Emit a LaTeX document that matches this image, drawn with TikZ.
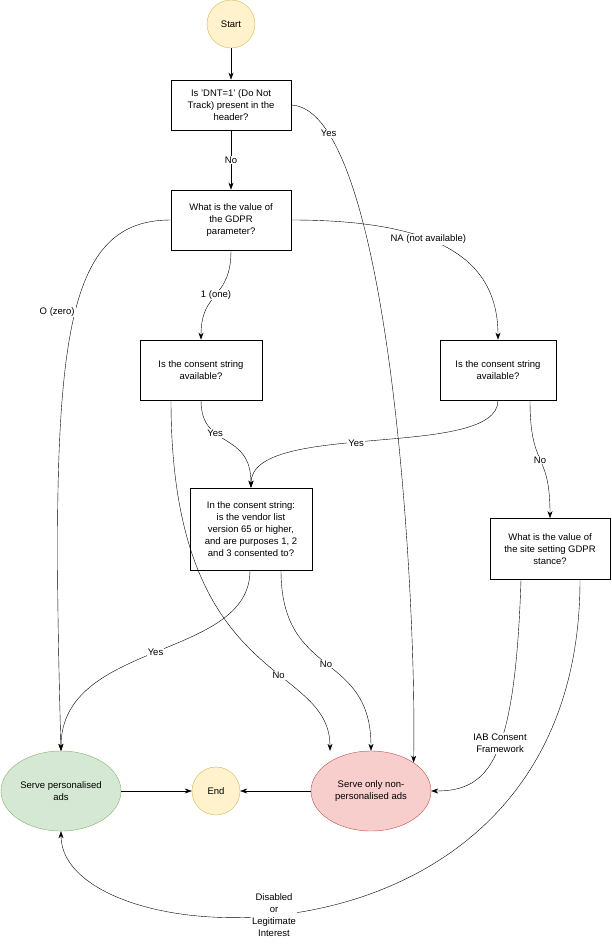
\documentclass[tikz,border=0pt]{standalone}
\usepackage{fontspec}
\setmainfont{Liberation Sans}
\usetikzlibrary{arrows.meta,shapes.geometric}
\definecolor{yf}{HTML}{FFF2CC}\definecolor{ys}{HTML}{D6B656}
\definecolor{gf}{HTML}{D5E8D4}\definecolor{gs}{HTML}{82B366}
\definecolor{rf}{HTML}{F8CECC}\definecolor{rs}{HTML}{B85450}
\begin{document}
\begin{tikzpicture}[x=1pt,y=-1pt,font=\fontsize{9.5}{12}\selectfont,
 box/.style={draw,thick,fill=white,align=center,inner sep=0},
 term/.style={circle,draw=ys,fill=yf,minimum size=48pt,inner sep=0},
 ell/.style={ellipse,minimum width=120pt,minimum height=80pt,align=center,inner sep=0},
 ar/.style={-{Stealth[length=7pt,width=5pt]},thin},
 lb/.style={fill=white,inner sep=1pt,align=center}]
\useasboundingbox (0,0) rectangle (611,945);
\node[term] (start) at (231,24) {Start};
\node[box,minimum width=120pt,minimum height=50pt] (b1) at (231,105) {Is 'DNT=1' (Do Not\\Track) present in the\\header?};
\node[box,minimum width=120pt,minimum height=60pt] (b2) at (231,220) {What is the value of\\the GDPR\\parameter?};
\node[box,minimum width=122pt,minimum height=60pt] (b3) at (201,370) {Is the consent string\\available?};
\node[box,minimum width=116pt,minimum height=60pt] (b4) at (498,370) {Is the consent string\\available?};
\node[box,minimum width=122pt,minimum height=82pt] (b5) at (251,529) {In the consent string:\\is the vendor list\\version 65 or higher,\\and are purposes 1, 2\\and 3 consented to?};
\node[box,minimum width=120pt,minimum height=61pt] (b6) at (550,549) {What is the value of\\the site setting GDPR\\stance?};
\node[ell,draw=gs,fill=gf] (pa) at (61,791) {Serve personalised\\ads};
\node[term] (end) at (216,791) {End};
\node[ell,draw=rs,fill=rf] (npa) at (371,791) {Serve only non-\\personalised ads};
\draw[ar] (start) -- (b1);
\draw[ar] (b1) -- node[lb]{No} (b2);
\draw[ar] (b1.east) .. controls (390,110) and (417,600) .. node[lb,pos=0.14]{Yes} (npa.north east);
\draw[ar] (b2.south) .. controls (231,300) and (201,290) .. node[lb,pos=0.5]{1 (one)} (b3.north);
\draw[ar] (b2.west) .. controls (60,220) and (50,350) .. node[lb,pos=0.45,xshift=-18pt]{O (zero)} (pa.north);
\draw[ar] (b2.east) .. controls (440,220) and (498,260) .. node[lb,pos=0.4]{NA (not available)} (b4.north);
\draw[ar] (b3.south) .. controls (201,450) and (251,430) .. node[lb,pos=0.35]{Yes} (b5.north);
\draw[ar] (b4.south) .. controls (498,460) and (251,420) .. node[lb,pos=0.55]{Yes} (b5.north);
\draw[ar] ([xshift=32pt]b4.south) .. controls (530,470) and (550,450) .. node[lb,pos=0.5]{No} (b6.north);
\draw[ar] ([xshift=-1pt]b5.south) .. controls (250,660) and (61,640) .. node[lb,pos=0.5]{Yes} (pa.north);
\draw[ar] ([xshift=30pt]b5.south) .. controls (281,680) and (371,650) .. node[lb,pos=0.5]{No} (npa.north);
\draw[ar] ([xshift=-30pt]b3.south) .. controls (171,690) and (330,660) .. node[lb,pos=0.62]{No} ([xshift=-41pt]npa.north);
\draw[ar] ([xshift=-29pt]b6.south) .. controls (515,760) and (490,791) .. node[lb,pos=0.45]{IAB Consent\\Framework} (npa.east);
\draw[ar] ([xshift=30pt]b6.south) .. controls (580,990) and (61,960) .. node[lb,pos=0.56]{Disabled\\or\\Legitimate\\Interest} (pa.south);
\draw[ar] (pa) -- (end);
\draw[ar] (npa) -- (end);
\end{tikzpicture}
\end{document}
